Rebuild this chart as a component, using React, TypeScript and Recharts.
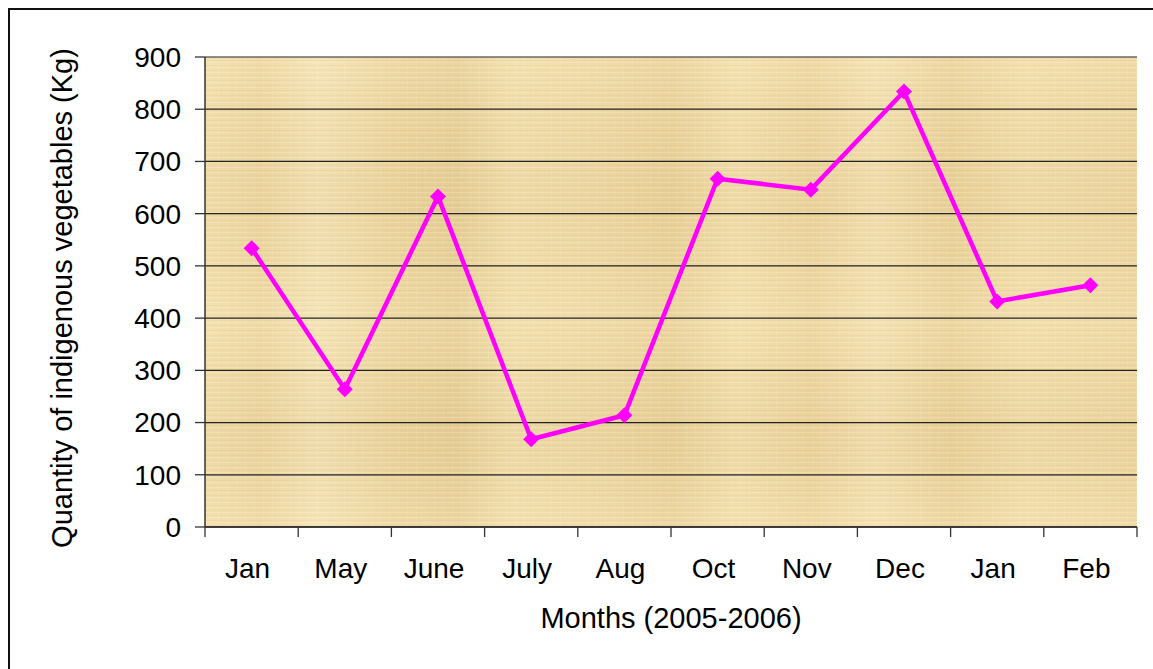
import { CartesianGrid, Label, Line, LineChart, XAxis, YAxis } from "recharts";

const months = ["Jan", "May", "June", "July", "Aug", "Oct", "Nov", "Dec", "Jan", "Feb"];
const quantities = [534, 264, 633, 168, 214, 667, 646, 834, 432, 463];
const yTicks = [0, 100, 200, 300, 400, 500, 600, 700, 800, 900];

const chartData = months.map((month, i) => ({ key: `${month}-${i}`, month, quantity: quantities[i] }));

const FONT = "'Liberation Sans', Arial, sans-serif";
const MAGENTA = "#FF00FF";

function Diamond({ cx, cy }: { cx?: number; cy?: number }) {
  if (cx == null || cy == null) return null;
  const r = 8;
  return <path d={`M${cx},${cy - r} L${cx + r},${cy} L${cx},${cy + r} L${cx - r},${cy} Z`} fill={MAGENTA} stroke="none" />;
}

function MonthTick(props: any) {
  const { x, y, payload, index, visibleTicksCount } = props;
  const half = payload.offset ?? 0;
  const top = y - 31;
  const label = months[index] ?? payload.value;
  return (
    <g>
      <line x1={x - half} x2={x - half} y1={top} y2={top + 10} stroke="#333" strokeWidth={1.3} />
      {index === visibleTicksCount - 1 && <line x1={x + half} x2={x + half} y1={top} y2={top + 10} stroke="#333" strokeWidth={1.3} />}
      <text x={x - 4} y={y + 20} textAnchor="middle" fill="#000" fontSize={28} fontFamily={FONT}>{label}</text>
    </g>
  );
}

function YTitle({ viewBox }: any) {
  const cy = viewBox.y + viewBox.height / 2;
  return (
    <text x={0} y={0} transform={`translate(72 ${cy + 6}) rotate(-90)`} textAnchor="middle" fill="#000" fontSize={29} fontFamily={FONT}>
      Quantity of indigenous vegetables (Kg)
    </text>
  );
}

function XTitle({ viewBox }: any) {
  const cx = viewBox.x + viewBox.width / 2;
  return (
    <text x={cx} y={628} textAnchor="middle" fill="#000" fontSize={29} fontFamily={FONT}>
      Months (2005-2006)
    </text>
  );
}

export default function App() {
  return (
    <div style={{ position: "fixed", left: 0, top: 0, width: 1153, height: 669, background: "#fff", overflow: "hidden" }}>
      <div style={{ position: "absolute", left: 8, top: 8, width: 1200, height: 700, borderTop: "2px solid #111", borderLeft: "2px solid #111" }} />
      <div style={{ position: "absolute", left: 0, top: 0 }}>
        <LineChart width={1153} height={669} data={chartData} margin={{ top: 57, right: 16, left: 0, bottom: 41 }}>
          <defs>
            <linearGradient id="papyrusBase" x1="0" x2="1" y1="0" y2="0">
              <stop offset="0%" stopColor="#F2DFAC" />
              <stop offset="6%" stopColor="#EDD6A0" />
              <stop offset="12%" stopColor="#F3E2B4" />
              <stop offset="20%" stopColor="#ECD59E" />
              <stop offset="27%" stopColor="#E7CF97" />
              <stop offset="33%" stopColor="#F1DEAB" />
              <stop offset="42%" stopColor="#EED8A3" />
              <stop offset="50%" stopColor="#E9D199" />
              <stop offset="57%" stopColor="#F2DFAC" />
              <stop offset="65%" stopColor="#ECD49D" />
              <stop offset="72%" stopColor="#F3E0B0" />
              <stop offset="80%" stopColor="#EAD29A" />
              <stop offset="88%" stopColor="#F1DDA9" />
              <stop offset="100%" stopColor="#EDD6A0" />
            </linearGradient>
            <linearGradient id="papyrusShade" x1="0" x2="0" y1="0" y2="1">
              <stop offset="0%" stopColor="#FFF4D0" stopOpacity={0.15} />
              <stop offset="30%" stopColor="#C8A870" stopOpacity={0.08} />
              <stop offset="55%" stopColor="#FFF4D0" stopOpacity={0.12} />
              <stop offset="80%" stopColor="#C8A870" stopOpacity={0.1} />
              <stop offset="100%" stopColor="#FFF4D0" stopOpacity={0.18} />
            </linearGradient>
            <pattern id="fibers" patternUnits="userSpaceOnUse" width={9} height={5}>
              <rect x={0} y={0} width={9} height={1} fill="#FFF8E0" fillOpacity={0.22} />
              <rect x={0} y={3} width={9} height={1} fill="#B89660" fillOpacity={0.08} />
              <rect x={4} y={0} width={1} height={5} fill="#FFF8E0" fillOpacity={0.12} />
            </pattern>
            <pattern id="papyrus" patternUnits="userSpaceOnUse" x={205} y={57} width={932} height={470}>
              <rect x={0} y={0} width={932} height={470} fill="url(#papyrusBase)" />
              <rect x={0} y={0} width={932} height={470} fill="url(#papyrusShade)" />
              <rect x={0} y={0} width={932} height={470} fill="url(#fibers)" />
            </pattern>
          </defs>
          <CartesianGrid vertical={false} horizontalValues={yTicks} stroke="#222" strokeWidth={1.2} fill="url(#papyrus)" fillOpacity={1} />
          <XAxis
            dataKey="key"
            scale="band"
            height={101}
            axisLine={{ stroke: "#222", strokeWidth: 1.5 }}
            tickLine={false}
            tickSize={10}
            tickMargin={21}
            interval={0}
            tick={<MonthTick />}
          >
            <Label content={<XTitle />} />
          </XAxis>
          <XAxis xAxisId="top" orientation="top" dataKey="key" scale="band" height={0} tick={false} tickLine={false} axisLine={{ stroke: "#8C8C8C", strokeWidth: 2.5 }} />
          <YAxis
            width={205}
            domain={[0, 900]}
            ticks={yTicks}
            interval={0}
            tickSize={10}
            tickMargin={14}
            axisLine={{ stroke: "#333", strokeWidth: 1.5 }}
            tickLine={{ stroke: "#333", strokeWidth: 1.3 }}
            tick={{ fill: "#000", fontSize: 28, fontFamily: FONT }}
          >
            <Label content={<YTitle />} />
          </YAxis>
          <YAxis yAxisId="right" orientation="right" width={0} domain={[0, 900]} tick={false} tickLine={false} axisLine={{ stroke: "#8C8C8C", strokeWidth: 2.5 }} />
          <Line
            type="linear"
            dataKey="quantity"
            stroke={MAGENTA}
            strokeWidth={4.5}
            dot={<Diamond />}
            activeDot={false}
            isAnimationActive={false}
          />
        </LineChart>
      </div>
    </div>
  );
}
